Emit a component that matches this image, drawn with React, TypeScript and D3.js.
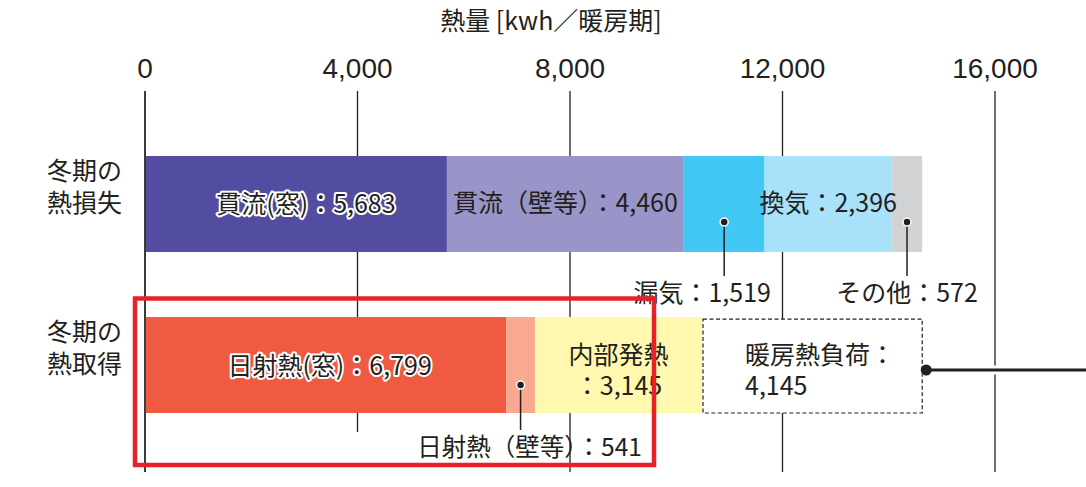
import React from "react";
import * as d3 from "d3";

const W = 1086;
const H = 487;

const rows = ["loss", "gain"];
const rowLabels = [
  ["冬期の", "熱損失"],
  ["冬期の", "熱取得"],
];

const lossCategories = ["貫流(窓)", "貫流(壁等)", "漏気", "換気", "その他"];
const lossValues = [5683, 4460, 1519, 2396, 572];
const lossColors = ["#524DA0", "#9A95C8", "#42C8F4", "#A8E1FA", "#D1D2D4"];

const gainCategories = ["日射熱(窓)", "日射熱(壁等)", "内部発熱", "暖房熱負荷"];
const gainValues = [6799, 541, 3145, 4145];
const gainColors = ["#F15A42", "#F8A98F", "#FFF8AE", "#FFFFFF"];

const tickValues = [0, 4000, 8000, 12000, 16000];
const title = "熱量 [kwh／暖房期]";

const FONT = "'Noto Sans CJK JP', 'Noto Sans', sans-serif";
const INK = "#231F20";

function stack(values: number[]) {
  let acc = 0;
  return values.map((v) => {
    const s = acc;
    acc += v;
    return { x0: s, x1: acc };
  });
}

const fmt = d3.format(",");

export default function App() {
  const x = d3.scaleLinear().domain([0, 16000]).range([145, 995]);
  const y = d3.scaleBand().domain(rows).range([156, 413]).paddingInner(0.404).paddingOuter(0);
  const bw = y.bandwidth();
  const y0 = y("loss")!;
  const y1 = y("gain")!;
  const lossStack = stack(lossValues);
  const gainStack = stack(gainValues);
  const mid = (s: { x0: number; x1: number }) => (x(s.x0) + x(s.x1)) / 2;
  const gainTotal = d3.sum(gainValues);
  const connY = y1 + bw / 2 + 5;

  const halo = {
    stroke: "#fff",
    strokeWidth: 4,
    paintOrder: "stroke" as const,
    strokeLinejoin: "round" as const,
  };

  const leader = (cx: number, cy: number, y2: number) => (
    <g>
      <line x1={cx} x2={cx} y1={cy} y2={y2} stroke={INK} strokeWidth={1.5} />
      <circle cx={cx} cy={cy} r={4} fill={INK} stroke="#fff" strokeWidth={1.5} />
    </g>
  );

  return (
    <svg width={W} height={H} style={{ position: "absolute", left: 0, top: 0 }} fontFamily={FONT}>
      <rect width={W} height={H} fill="#fff" />
      {/* title */}
      <text x={551} y={30} textAnchor="middle" fontSize={25} fill={INK}>
        {title}
      </text>
      {/* ticks */}
      {tickValues.map((t) => (
        <text
          key={"t" + t}
          x={x(t)}
          y={78}
          textAnchor="middle"
          fontSize={28}
          fill={INK}
          fontFamily="'Liberation Sans', Arial, sans-serif"
        >
          {fmt(t)}
        </text>
      ))}
      {/* gridlines */}
      {tickValues.map((t) => (
        <line
          key={"g" + t}
          x1={x(t)}
          x2={x(t)}
          y1={91}
          y2={t === 4000 ? 432 : 472}
          stroke={INK}
          strokeWidth={1.3}
        />
      ))}
      {/* row labels */}
      {rowLabels.map((lines, i) => {
        const cy = y(rows[i])! + bw / 2;
        return (
          <text key={"r" + i} textAnchor="end" fontSize={25} fill={INK}>
            {lines.map((l, j) => (
              <tspan key={j} x={122} y={cy - 8 + (j - 0.5) * 32}>
                {l}
              </tspan>
            ))}
          </text>
        );
      })}
      {/* loss bars */}
      {lossStack.map((s, i) => (
        <rect
          key={"l" + lossCategories[i]}
          x={x(s.x0)}
          y={y0}
          width={x(s.x1) - x(s.x0)}
          height={bw}
          fill={lossColors[i]}
        />
      ))}
      {/* gain bars */}
      {gainStack.map((s, i) =>
        i === 3 ? (
          <rect
            key={"g" + gainCategories[i]}
            x={x(s.x0) + 1}
            y={y1 + 2}
            width={x(s.x1) - x(s.x0) - 1}
            height={bw - 2}
            fill="#fff"
            stroke={INK}
            strokeWidth={1.2}
            strokeDasharray="4 2.5"
          />
        ) : (
          <rect
            key={"g" + gainCategories[i]}
            x={x(s.x0)}
            y={y1}
            width={x(s.x1) - x(s.x0)}
            height={bw}
            fill={gainColors[i]}
          />
        )
      )}
      {/* axis zero line on top */}
      <line x1={x(0)} x2={x(0)} y1={91} y2={472} stroke={INK} strokeWidth={1.3} />

      {/* loss labels */}
      <text x={mid(lossStack[0]) + 10} y={y0 + bw / 2 + 9} textAnchor="middle" fontSize={25} fill={INK} {...halo}>
        貫流(窓)：{fmt(lossValues[0])}
      </text>
      <text x={mid(lossStack[1])} y={y0 + bw / 2 + 8} textAnchor="middle" fontSize={25} fill={INK}>
        貫流（壁等）：{fmt(lossValues[1])}
      </text>
      <text x={mid(lossStack[3])} y={y0 + bw / 2 + 8} textAnchor="middle" fontSize={25} fill={INK}>
        換気：{fmt(lossValues[3])}
      </text>
      {leader(mid(lossStack[2]), y0 + 66, 276)}
      <text x={mid(lossStack[2]) - 22} y={302} textAnchor="middle" fontSize={25} fill={INK}>
        漏気：{fmt(lossValues[2])}
      </text>
      {leader(mid(lossStack[4]), y0 + 66, 276)}
      <text x={mid(lossStack[4])} y={302} textAnchor="middle" fontSize={25} fill={INK}>
        その他：{fmt(lossValues[4])}
      </text>

      {/* gain labels */}
      <text x={mid(gainStack[0]) + 4} y={y1 + bw / 2 + 10} textAnchor="middle" fontSize={25} fill={INK} {...halo}>
        日射熱(窓)：{fmt(gainValues[0])}
      </text>
      {leader(mid(gainStack[1]), y1 + 68, 430)}
      <text x={mid(gainStack[1]) + 9} y={456} textAnchor="middle" fontSize={24.5} fill={INK}>
        日射熱（壁等）：{fmt(gainValues[1])}
      </text>
      <text textAnchor="middle" fontSize={25} fill={INK}>
        <tspan x={mid(gainStack[2])} y={y1 + 47}>
          内部発熱
        </tspan>
        <tspan x={mid(gainStack[2])} y={y1 + 78}>
          ：{fmt(gainValues[2])}
        </tspan>
      </text>
      <text textAnchor="start" fontSize={25} fill={INK}>
        <tspan x={x(gainStack[3].x0) + 43} y={y1 + 47}>
          暖房熱負荷：
        </tspan>
        <tspan x={x(gainStack[3].x0) + 43} y={y1 + 78}>
          {fmt(gainValues[3])}
        </tspan>
      </text>

      {/* connector */}
      <line x1={x(gainTotal)} x2={W} y1={connY} y2={connY} stroke="#fff" strokeWidth={9} />
      <line x1={x(gainTotal)} x2={W} y1={connY} y2={connY} stroke={INK} strokeWidth={3} />
      <circle cx={x(gainTotal) + 4} cy={connY} r={5.5} fill={INK} />

      {/* highlight box */}
      <rect x={135} y={298.5} width={519} height={166.5} fill="none" stroke="#E8202A" strokeWidth={4.5} />
    </svg>
  );
}
